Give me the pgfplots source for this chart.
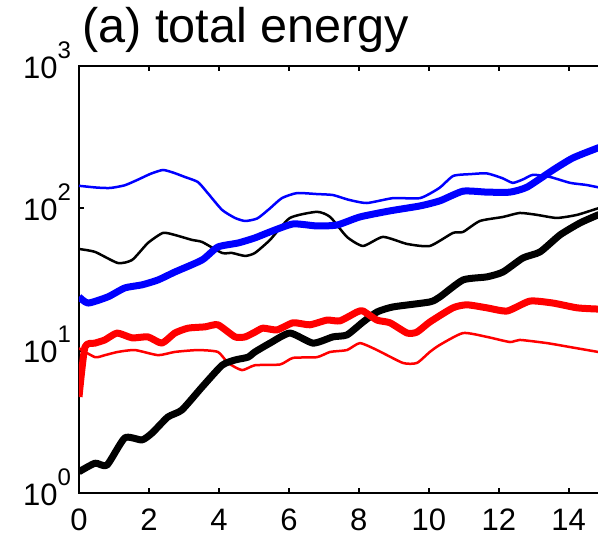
\documentclass[border=0pt]{standalone}
\usepackage{pgfplots}
\pgfplotsset{compat=1.18}
\usepackage{fontspec}
\setmainfont{Liberation Sans}
\newcommand{\tenp}[1]{10\raisebox{10pt}{\fontsize{12}{12}\selectfont #1}}
\begin{document}
\begin{tikzpicture}
\begin{axis}[
  at={(0,0)}, anchor=south west,
  scale only axis, width=262.35pt, height=213.5pt,
  xmin=0, xmax=15, ymin=1, ymax=1000,
  ymode=log,
  xtick={0,2,4,6,8,10,12,14},
  ytick={1,10,100,1000},
  yticklabels={\tenp{0},\tenp{1},\tenp{2},\tenp{3}},
  yminorticks=false,
  tick align=inside,
  major tick length=2.5pt,
  axis line style={line width=1pt},
  every tick/.style={black, line width=1pt},
  /pgf/number format/assume math mode=true,
  tick label style={font=\fontsize{15.5}{16}\selectfont},
  xticklabel style={yshift=-4.5pt},
  yticklabel style={yshift=3pt, xshift=-0.5pt},
  title={(a) total energy},
  title style={at={(rel axis cs:0,1)}, anchor=base west, inner sep=0pt, xshift=1.5pt, yshift=6pt, font=\fontsize{24.3}{27}\selectfont},
  every axis plot/.append style={smooth, tension=0.35, line join=round},
]
% thin black
\addplot[black, line width=1.25pt] coordinates {(0,51.8)(0.46,49.4)(1.11,41.3)(1.52,43.4)(1.97,57.1)(2.4,67.2)(2.74,65)(3.23,60)(3.52,58)(4.09,48.6)(4.37,48.6)(4.75,46.3)(5.03,48.6)(5.46,60)(6.03,85.6)(6.8,94.5)(7.18,87)(7.66,63)(8.12,54.4)(8.69,63)(9.38,56.2)(10.03,54.4)(10.69,67.2)(10.98,68.3)(11.46,81.5)(12.12,87)(12.6,92.8)(13.09,90)(13.66,85.6)(14.24,90)(14.84,100)(15,101)};
% thin blue
\addplot[blue, line width=1.25pt] coordinates {(0,144)(0.5,140)(0.89,139)(1.3,145)(1.66,158)(2.05,175)(2.4,186)(2.7,178)(3.03,166)(3.4,153)(3.68,128)(4.09,97.5)(4.46,85.6)(4.75,81.5)(5.1,85)(5.46,100)(5.8,118)(6.23,128)(6.8,126)(7.26,124)(7.7,115)(8.23,109)(8.98,118)(9.75,118)(10.3,139)(10.7,169)(11.2,174)(11.66,176)(12.1,163)(12.4,151)(12.7,160)(12.98,172)(13.47,166)(14.04,151)(14.5,146)(15,138)};
% thin red
\addplot[red, line width=1.25pt] coordinates {(0,10.4)(0.46,9.0)(0.74,9.3)(1.11,9.8)(1.6,10.1)(2.26,9.3)(2.74,9.8)(3.4,10.1)(3.97,9.8)(4.26,8.2)(4.66,7.3)(5.03,7.9)(5.75,8.0)(6.12,8.9)(6.8,9.0)(7.18,9.8)(7.66,10.1)(8.03,11.3)(8.52,10.1)(9.26,8.2)(9.66,8.2)(10.03,9.8)(10.32,11.0)(10.98,13.3)(11.66,12.5)(12.32,11.5)(12.6,11.9)(13.38,11.3)(14.04,10.6)(14.84,9.8)(15,9.7)};
% thick black
\addplot[black, line width=3.5pt] coordinates {(0,1.41)(0.46,1.62)(0.8,1.57)(1.31,2.44)(1.8,2.36)(2.09,2.64)(2.54,3.42)(2.94,3.83)(3.52,5.56)(4.09,7.9)(4.46,8.6)(4.83,9.0)(5.03,9.8)(5.46,11.3)(6.03,13.3)(6.69,11.3)(7.26,12.5)(7.66,12.9)(8.12,15.9)(8.52,18.7)(8.98,20.3)(10.03,22)(10.32,23.9)(10.98,31.4)(11.66,33)(12.12,35.7)(12.69,44.8)(13.18,49.4)(13.75,65)(14.32,78.9)(14.84,89.9)(15,92)};
% thick blue
\addplot[blue, line width=3.5pt] coordinates {(0,23.9)(0.26,21.6)(0.83,23.9)(1.31,27.6)(1.8,29)(2.26,31.4)(2.74,35.7)(3.52,43.4)(3.97,53.5)(4.55,57.1)(5.03,62)(5.46,68.3)(6.12,77.7)(6.8,75.2)(7.38,76.4)(8.03,87)(8.89,96)(9.75,104)(10.32,113)(10.98,132)(11.66,130)(12.32,130)(12.81,141)(13.55,186)(14.12,226)(14.84,266)(15,272)};
% thick red
\addplot[red, line width=3.5pt] coordinates {(0,4.73)(0.17,10.6)(0.46,11.3)(0.74,11.9)(1.09,13.3)(1.52,12.3)(1.97,12.5)(2.37,11.3)(2.74,13.3)(3.12,14.4)(3.6,14.7)(3.97,15.2)(4.46,12.5)(4.75,12.5)(5.03,13.5)(5.26,14.4)(5.66,14)(6.12,15.7)(6.6,15.2)(7.09,16.4)(7.46,16.2)(7.95,18.7)(8.12,19)(8.52,16.4)(8.89,15.7)(9.38,13.3)(9.66,13.5)(10.03,15.9)(10.69,20)(11.09,21)(11.66,20)(12.24,19)(12.89,22.3)(13.55,21.6)(14.24,20)(14.84,19.6)(15,19.6)};
\end{axis}
\pgfresetboundingbox
\path[use as bounding box] (-39.5pt,-24pt) rectangle (259.5pt,246.5pt);
\end{tikzpicture}
\end{document}
